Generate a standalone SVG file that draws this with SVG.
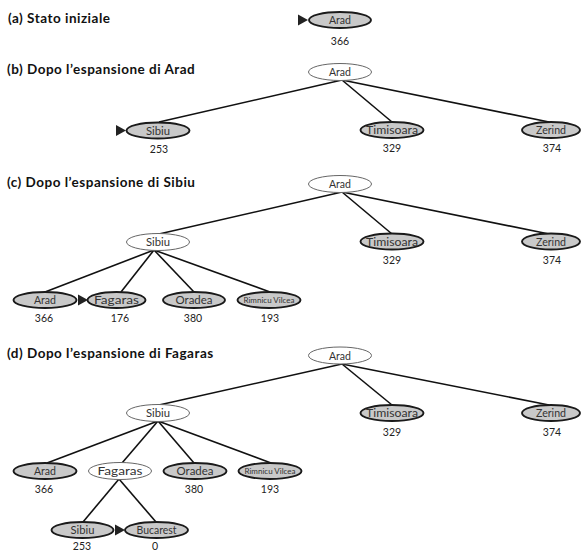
<svg xmlns="http://www.w3.org/2000/svg" width="582" height="551" viewBox="0 0 582 551">
<style>
.bg{fill:#fff}
.title{font-family:Lato,"Open Sans","Liberation Sans",sans-serif;font-weight:bold;font-size:13.5px;letter-spacing:0.5px;fill:#111}
.open{fill:#fff;stroke:#666;stroke-width:1}
.leaf{fill:#c9c9c9;stroke:#1a1a1a;stroke-width:1.9}
.lbl{font-family:Lato,"Open Sans","Liberation Sans",sans-serif;font-size:11px;fill:#333;text-anchor:middle}
.sm{font-size:7.5px}
.num{font-family:Lato,"Open Sans","Liberation Sans",sans-serif;font-size:10.5px;fill:#222;text-anchor:middle}
.edge{stroke:#111;stroke-width:1.6;fill:none}
.ptr{fill:#222}
</style>
<defs>
<path id="ptr" d="M0,-5.5 L10,0 L0,5.5 Z"/>
</defs>
<rect class="bg" x="0" y="0" width="582" height="551"/>

<text class="title" x="8" y="23">(a) Stato iniziale</text>
<text class="title" x="7" y="74">(b) Dopo l’espansione di Arad</text>
<text class="title" x="7" y="187">(c) Dopo l’espansione di Sibiu</text>
<text class="title" x="7" y="358">(d) Dopo l’espansione di Fagaras</text>

<g id="connectors">
<line class="edge" x1="342" y1="80" x2="159" y2="122"/>
<line class="edge" x1="342" y1="80" x2="392" y2="122"/>
<line class="edge" x1="342" y1="80" x2="549" y2="122"/>
<line class="edge" x1="342" y1="192" x2="159" y2="234"/>
<line class="edge" x1="342" y1="192" x2="392" y2="234"/>
<line class="edge" x1="342" y1="192" x2="549" y2="234"/>
<line class="edge" x1="154" y1="250" x2="45" y2="292"/>
<line class="edge" x1="154" y1="250" x2="121" y2="292"/>
<line class="edge" x1="154" y1="250" x2="194" y2="292"/>
<line class="edge" x1="154" y1="250" x2="270" y2="292"/>
<line class="edge" x1="342" y1="364" x2="159" y2="405"/>
<line class="edge" x1="342" y1="364" x2="392" y2="405"/>
<line class="edge" x1="342" y1="364" x2="549" y2="405"/>
<line class="edge" x1="158" y1="421" x2="47" y2="463"/>
<line class="edge" x1="158" y1="421" x2="122" y2="463"/>
<line class="edge" x1="158" y1="421" x2="194" y2="463"/>
<line class="edge" x1="158" y1="421" x2="271" y2="463"/>
<line class="edge" x1="119" y1="479" x2="83" y2="522"/>
<line class="edge" x1="119" y1="479" x2="156" y2="522"/>
</g>

<g id="a-arad">
<use href="#ptr" class="ptr" x="298" y="20"/>
<ellipse class="leaf" cx="340" cy="20" rx="31" ry="8"/>
<text class="lbl" x="340" y="24" textLength="22" lengthAdjust="spacingAndGlyphs">Arad</text>
<text class="num" x="340" y="45">366</text>
</g>

<g id="b-arad">
<ellipse class="open" cx="340" cy="72" rx="31.5" ry="8.5"/>
<text class="lbl" x="340" y="76" textLength="22" lengthAdjust="spacingAndGlyphs">Arad</text>
</g>
<g id="b-sibiu">
<use href="#ptr" class="ptr" x="116" y="130.5"/>
<ellipse class="leaf" cx="158" cy="130.5" rx="31.5" ry="8"/>
<text class="lbl" x="158" y="134.5" textLength="24" lengthAdjust="spacingAndGlyphs">Sibiu</text>
<text class="num" x="159" y="153">253</text>
</g>
<g id="b-timisoara">
<ellipse class="leaf" cx="392" cy="130" rx="31.5" ry="8"/>
<text class="lbl" x="392" y="134" textLength="52" lengthAdjust="spacingAndGlyphs">Timisoara</text>
<text class="num" x="392" y="152">329</text>
</g>
<g id="b-zerind">
<ellipse class="leaf" cx="551" cy="130" rx="29" ry="8"/>
<text class="lbl" x="551" y="134" textLength="30" lengthAdjust="spacingAndGlyphs">Zerind</text>
<text class="num" x="552" y="152">374</text>
</g>

<g id="c-arad">
<ellipse class="open" cx="340" cy="184" rx="31.5" ry="8.5"/>
<text class="lbl" x="340" y="188" textLength="22" lengthAdjust="spacingAndGlyphs">Arad</text>
</g>
<g id="c-sibiu">
<ellipse class="open" cx="158" cy="242" rx="31.5" ry="8.5"/>
<text class="lbl" x="158" y="246" textLength="24" lengthAdjust="spacingAndGlyphs">Sibiu</text>
</g>
<g id="c-timisoara">
<ellipse class="leaf" cx="392" cy="241.5" rx="31.5" ry="8"/>
<text class="lbl" x="392" y="245.5" textLength="52" lengthAdjust="spacingAndGlyphs">Timisoara</text>
<text class="num" x="392" y="264">329</text>
</g>
<g id="c-zerind">
<ellipse class="leaf" cx="551" cy="241.5" rx="29" ry="8"/>
<text class="lbl" x="551" y="245.5" textLength="30" lengthAdjust="spacingAndGlyphs">Zerind</text>
<text class="num" x="552" y="264">374</text>
</g>
<g id="c-arad2">
<ellipse class="leaf" cx="45" cy="300" rx="31.5" ry="8"/>
<text class="lbl" x="45" y="304" textLength="22" lengthAdjust="spacingAndGlyphs">Arad</text>
<text class="num" x="44" y="322">366</text>
</g>
<g id="c-fagaras">
<use href="#ptr" class="ptr" x="78" y="300"/>
<ellipse class="leaf" cx="116.5" cy="300" rx="29" ry="8"/>
<text class="lbl" x="116.5" y="304" textLength="45" lengthAdjust="spacingAndGlyphs">Fagaras</text>
<text class="num" x="120" y="322">176</text>
</g>
<g id="c-oradea">
<ellipse class="leaf" cx="194" cy="300" rx="31" ry="8"/>
<text class="lbl" x="194" y="304" textLength="37" lengthAdjust="spacingAndGlyphs">Oradea</text>
<text class="num" x="193" y="322">380</text>
</g>
<g id="c-rimnicu">
<ellipse class="leaf" cx="269" cy="300" rx="31.5" ry="8"/>
<text class="lbl sm" x="269" y="302.8" textLength="51" lengthAdjust="spacingAndGlyphs">Rimnicu Vilcea</text>
<text class="num" x="270" y="322">193</text>
</g>

<g id="d-arad">
<ellipse class="open" cx="340" cy="355.5" rx="31.5" ry="8.5"/>
<text class="lbl" x="340" y="359.5" textLength="22" lengthAdjust="spacingAndGlyphs">Arad</text>
</g>
<g id="d-sibiu">
<ellipse class="open" cx="158" cy="413" rx="31.5" ry="8.5"/>
<text class="lbl" x="158" y="417" textLength="24" lengthAdjust="spacingAndGlyphs">Sibiu</text>
</g>
<g id="d-timisoara">
<ellipse class="leaf" cx="392" cy="413" rx="31.5" ry="8"/>
<text class="lbl" x="392" y="417" textLength="52" lengthAdjust="spacingAndGlyphs">Timisoara</text>
<text class="num" x="392" y="436">329</text>
</g>
<g id="d-zerind">
<ellipse class="leaf" cx="551" cy="413" rx="29" ry="8"/>
<text class="lbl" x="551" y="417" textLength="30" lengthAdjust="spacingAndGlyphs">Zerind</text>
<text class="num" x="552" y="436">374</text>
</g>
<g id="d-arad2">
<ellipse class="leaf" cx="45" cy="471" rx="31.5" ry="8"/>
<text class="lbl" x="45" y="475" textLength="22" lengthAdjust="spacingAndGlyphs">Arad</text>
<text class="num" x="44" y="493">366</text>
</g>
<g id="d-fagaras">
<ellipse class="open" cx="120" cy="471" rx="31.5" ry="8.5"/>
<text class="lbl" x="120" y="475" textLength="45" lengthAdjust="spacingAndGlyphs">Fagaras</text>
</g>
<g id="d-oradea">
<ellipse class="leaf" cx="195" cy="471" rx="31.5" ry="8"/>
<text class="lbl" x="195" y="475" textLength="37" lengthAdjust="spacingAndGlyphs">Oradea</text>
<text class="num" x="194" y="493">380</text>
</g>
<g id="d-rimnicu">
<ellipse class="leaf" cx="270" cy="471" rx="31.5" ry="8"/>
<text class="lbl sm" x="270" y="473.8" textLength="51" lengthAdjust="spacingAndGlyphs">Rimnicu Vilcea</text>
<text class="num" x="270" y="493">193</text>
</g>
<g id="d-sibiu2">
<ellipse class="leaf" cx="82.5" cy="530" rx="31" ry="8"/>
<text class="lbl" x="82.5" y="534" textLength="24" lengthAdjust="spacingAndGlyphs">Sibiu</text>
<text class="num" x="82" y="550">253</text>
</g>
<g id="d-bucarest">
<use href="#ptr" class="ptr" x="115" y="530"/>
<ellipse class="leaf" cx="156.5" cy="530" rx="31.5" ry="8"/>
<text class="lbl" x="156.5" y="534" textLength="40" lengthAdjust="spacingAndGlyphs">Bucarest</text>
<text class="num" x="155" y="550">0</text>
</g>
</svg>
